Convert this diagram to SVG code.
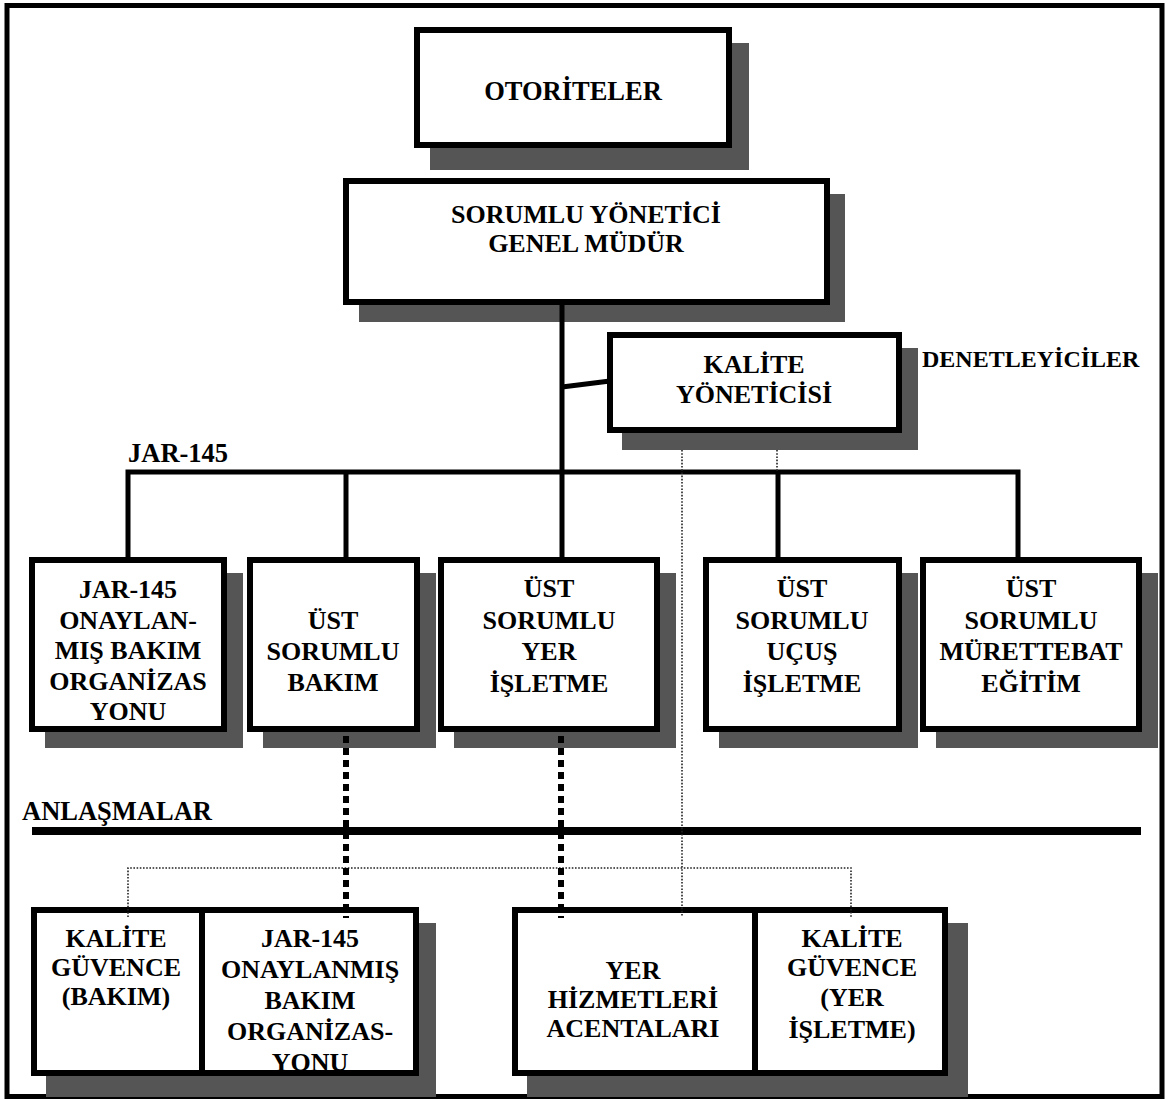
<svg xmlns="http://www.w3.org/2000/svg" width="1169" height="1100" viewBox="0 0 1169 1100">
<style>
.bg{fill:#fff}
.sh{fill:#555}
.bx{fill:#fff;stroke:#000;stroke-width:6}
.ln{stroke:#000;stroke-width:5;fill:none}
.dot{stroke:#222;stroke-width:1.6;stroke-dasharray:1.6 1.6;fill:none}
.dash{stroke:#000;stroke-width:6;stroke-dasharray:7 5;fill:none}
text{font-family:"Liberation Serif","Times New Roman",serif;font-weight:bold;font-size:26px;fill:#000}
.c{text-anchor:middle}
</style>
<rect class="bg" x="0" y="0" width="1169" height="1100"/>
<rect x="7" y="5.5" width="1155" height="1091" fill="none" stroke="#000" stroke-width="5"/>

<g id="otoriteler">
<rect class="sh" x="430" y="43" width="319" height="127"/>
<rect class="bx" x="417" y="30" width="312" height="115"/>
<text class="c" x="573" y="100" style="font-size:26.5px">OTORİTELER</text>
</g>

<g id="sorumlu-yonetici">
<rect class="sh" x="359" y="194" width="486" height="128"/>
<rect class="bx" x="346" y="181" width="481" height="121"/>
<text class="c" x="586" y="223">SORUMLU YÖNETİCİ</text>
<text class="c" x="586" y="252">GENEL MÜDÜR</text>
</g>

<g id="kalite-yoneticisi">
<rect class="sh" x="622" y="348" width="296" height="102"/>
<rect class="bx" x="610" y="335" width="289" height="95"/>
<text class="c" x="754" y="373">KALİTE</text>
<text class="c" x="754" y="403">YÖNETİCİSİ</text>
</g>

<g id="denetleyiciler">
<text x="922" y="367" style="font-size:24px">DENETLEYİCİLER</text>
</g>

<g id="jar145-label">
<text x="128" y="462" style="font-size:26.5px">JAR-145</text>
</g>

<g id="jar145-org">
<rect class="sh" x="45" y="573" width="198" height="175"/>
<rect class="bx" x="32" y="560" width="192" height="169"/>
<text class="c" x="128" y="598">JAR-145</text>
<text class="c" x="128" y="628.5">ONAYLAN-</text>
<text class="c" x="128" y="659">MIŞ BAKIM</text>
<text class="c" x="128" y="689.5">ORGANİZAS</text>
<text class="c" x="128" y="720">YONU</text>
</g>

<g id="ust-bakim">
<rect class="sh" x="263" y="573" width="173" height="175"/>
<rect class="bx" x="250" y="560" width="167" height="169"/>
<text class="c" x="333" y="629">ÜST</text>
<text class="c" x="333" y="660">SORUMLU</text>
<text class="c" x="333" y="691">BAKIM</text>
</g>

<g id="ust-yer">
<rect class="sh" x="454" y="573" width="222" height="175"/>
<rect class="bx" x="441" y="560" width="216" height="169"/>
<text class="c" x="549" y="597">ÜST</text>
<text class="c" x="549" y="629">SORUMLU</text>
<text class="c" x="549" y="660">YER</text>
<text class="c" x="549" y="692">İŞLETME</text>
</g>

<g id="ust-ucus">
<rect class="sh" x="719" y="573" width="199" height="175"/>
<rect class="bx" x="706" y="560" width="193" height="169"/>
<text class="c" x="802" y="597">ÜST</text>
<text class="c" x="802" y="629">SORUMLU</text>
<text class="c" x="802" y="660">UÇUŞ</text>
<text class="c" x="802" y="692">İŞLETME</text>
</g>

<g id="ust-murettebat">
<rect class="sh" x="936" y="573" width="222" height="175"/>
<rect class="bx" x="923" y="560" width="216" height="169"/>
<text class="c" x="1031" y="597">ÜST</text>
<text class="c" x="1031" y="629">SORUMLU</text>
<text class="c" x="1031" y="660">MÜRETTEBAT</text>
<text class="c" x="1031" y="692">EĞİTİM</text>
</g>

<g id="anlasmalar">
<text x="22" y="820" style="font-size:26.5px">ANLAŞMALAR</text>
</g>

<g id="bakim-anlasma">
<rect class="sh" x="46" y="923" width="390" height="174"/>
<rect class="bx" x="34" y="910" width="382" height="163"/>
<text class="c" x="116" y="947">KALİTE</text>
<text class="c" x="116" y="976">GÜVENCE</text>
<text class="c" x="116" y="1005">(BAKIM)</text>
<text class="c" x="310" y="947">JAR-145</text>
<text class="c" x="310" y="978">ONAYLANMIŞ</text>
<text class="c" x="310" y="1009">BAKIM</text>
<text class="c" x="310" y="1040">ORGANİZAS-</text>
<text class="c" x="310" y="1071">YONU</text>
<rect x="34" y="910" width="382" height="163" fill="none" stroke="#000" stroke-width="6"/>
<line x1="202" y1="910" x2="202" y2="1073" stroke="#000" stroke-width="6"/>
</g>

<g id="yer-anlasma">
<rect class="sh" x="527" y="923" width="441" height="174"/>
<rect class="bx" x="515" y="910" width="430" height="163"/>
<line x1="755" y1="910" x2="755" y2="1073" stroke="#000" stroke-width="6"/>
<text class="c" x="633" y="979">YER</text>
<text class="c" x="633" y="1008">HİZMETLERİ</text>
<text class="c" x="633" y="1037">ACENTALARI</text>
<text class="c" x="852" y="947">KALİTE</text>
<text class="c" x="852" y="976">GÜVENCE</text>
<text class="c" x="852" y="1006">(YER</text>
<text class="c" x="852" y="1038">İŞLETME)</text>
</g>

<g id="connectors">
<line class="ln" x1="562" y1="302" x2="562" y2="560"/>
<line class="ln" x1="562" y1="387" x2="610" y2="381"/>
<polyline class="ln" points="128,560 128,472 1018,472 1018,560"/>
<line class="ln" x1="346" y1="472" x2="346" y2="560"/>
<line class="ln" x1="778" y1="472" x2="778" y2="560"/>
<line x1="32" y1="831" x2="1141" y2="831" stroke="#000" stroke-width="8"/>
<line class="dot" x1="682" y1="450" x2="682" y2="917"/>
<line class="dot" x1="777" y1="450" x2="777" y2="472"/>
<polyline class="dot" points="128,917 128,868 851,868 851,917"/>
<line class="dash" x1="346" y1="736" x2="346" y2="918"/>
<line class="dash" x1="561" y1="736" x2="561" y2="918"/>
</g>
</svg>
